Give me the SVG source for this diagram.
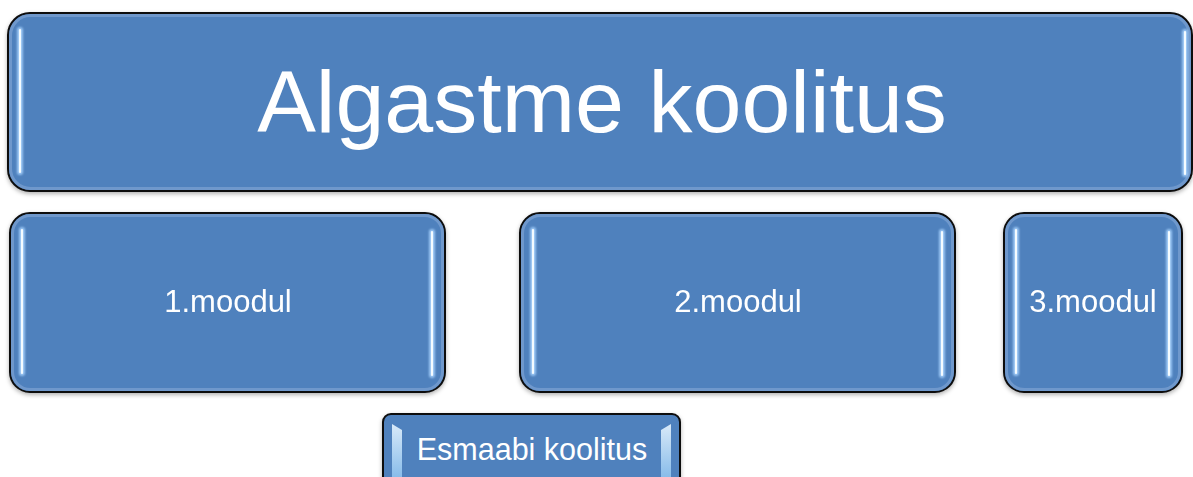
<svg xmlns="http://www.w3.org/2000/svg" width="1193" height="477" viewBox="0 0 1193 477">
<style>
.box{fill:#4f81bd;stroke:#111;stroke-width:2}
.inner{fill:none;stroke:#7ea3d3;stroke-width:3;opacity:0.7}
.hl{stroke:#a9d4ff;stroke-width:6;stroke-linecap:round;opacity:0.85}
.hc{stroke:#f4fbff;stroke-width:2.2;stroke-linecap:round}
.t{fill:#fff;font-family:"Liberation Sans",Arial,sans-serif;text-anchor:middle}
</style>
<defs>
<filter id="sh" x="-5%" y="-5%" width="110%" height="115%">
<feDropShadow dx="0" dy="2" stdDeviation="2" flood-color="#000" flood-opacity="0.3"/>
</filter>
<filter id="bl" x="-50%" y="-5%" width="200%" height="110%">
<feGaussianBlur stdDeviation="1"/>
</filter>
<linearGradient id="bev" x1="0" y1="0" x2="0" y2="1">
<stop offset="0" stop-color="#e8f5ff"/>
<stop offset="1" stop-color="#8fc3ef"/>
</linearGradient>
</defs>
<g id="connectors"></g>
<g id="top">
<rect class="box" x="8" y="13" width="1184" height="178" rx="22" filter="url(#sh)"/>
<rect class="inner" x="10.5" y="15.5" width="1179" height="173" rx="20"/>
<g filter="url(#bl)"><line class="hl" x1="20" y1="30" x2="20" y2="172"/><line class="hl" x1="1185" y1="32" x2="1185" y2="174"/></g>
<line class="hc" x1="20" y1="30" x2="20" y2="172"/><line class="hc" x1="1185" y1="32" x2="1185" y2="174"/>
<text class="t" x="602" y="132" font-size="88">Algastme koolitus</text>
</g>
<g id="m1">
<rect class="box" x="10" y="213" width="435" height="179" rx="20" filter="url(#sh)"/>
<rect class="inner" x="12.5" y="215.5" width="430" height="174" rx="18"/>
<g filter="url(#bl)"><line class="hl" x1="22" y1="230" x2="22" y2="373"/><line class="hl" x1="432" y1="232" x2="432" y2="375"/></g>
<line class="hc" x1="22" y1="230" x2="22" y2="373"/><line class="hc" x1="432" y1="232" x2="432" y2="375"/>
<text class="t" x="228" y="312" font-size="31">1.moodul</text>
</g>
<g id="m2">
<rect class="box" x="520" y="213" width="435" height="179" rx="20" filter="url(#sh)"/>
<rect class="inner" x="522.5" y="215.5" width="430" height="174" rx="18"/>
<g filter="url(#bl)"><line class="hl" x1="533" y1="230" x2="533" y2="373"/><line class="hl" x1="942" y1="232" x2="942" y2="375"/></g>
<line class="hc" x1="533" y1="230" x2="533" y2="373"/><line class="hc" x1="942" y1="232" x2="942" y2="375"/>
<text class="t" x="738" y="312" font-size="31">2.moodul</text>
</g>
<g id="m3">
<rect class="box" x="1004" y="213" width="178" height="179" rx="20" filter="url(#sh)"/>
<rect class="inner" x="1006.5" y="215.5" width="173" height="174" rx="18"/>
<g filter="url(#bl)"><line class="hl" x1="1016" y1="230" x2="1016" y2="373"/><line class="hl" x1="1169" y1="232" x2="1169" y2="375"/></g>
<line class="hc" x1="1016" y1="230" x2="1016" y2="373"/><line class="hc" x1="1169" y1="232" x2="1169" y2="375"/>
<text class="t" x="1093" y="312" font-size="31">3.moodul</text>
</g>
<g id="esmaabi">
<rect class="box" x="383" y="414" width="297" height="80" rx="8" filter="url(#sh)"/>
<polygon points="392,424 402,430 402,477 392,477" fill="url(#bev)" opacity="0.9"/>
<polygon points="671,424 661,430 661,477 671,477" fill="url(#bev)" opacity="0.9"/>
<text class="t" x="532" y="460" font-size="30.5">Esmaabi koolitus</text>
</g>
</svg>
